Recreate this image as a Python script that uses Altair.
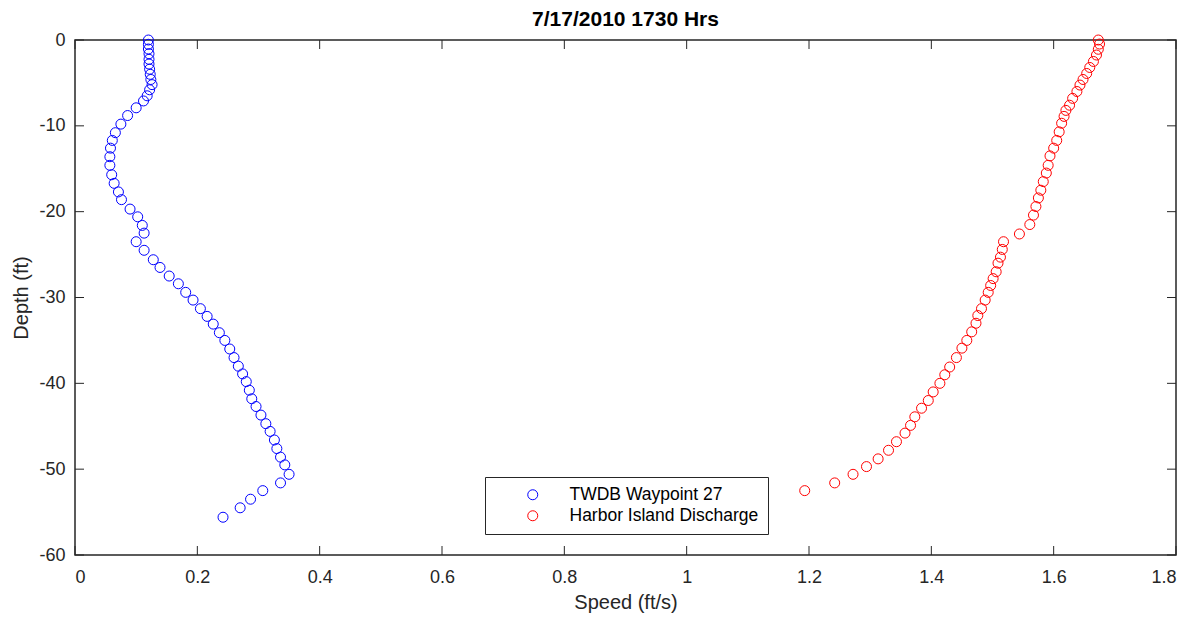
import altair as alt
import pandas as pd

# ---- data ----
twdb_depth = [0, -0.5, -1.05, -1.6, -2.25, -2.8, -3.4, -4.0, -4.6, -5.2, -5.8, -6.5, -7.1, -7.9,
              -8.8, -9.8, -10.8, -11.7, -12.6, -13.6, -14.6, -15.7, -16.7, -17.7, -18.6, -19.7,
              -20.6, -21.6, -22.5, -23.5, -24.5, -25.6, -26.5, -27.5, -28.4, -29.4, -30.3, -31.3,
              -32.2, -33.1, -34.1, -35.0, -36.0, -37.0, -38.0, -38.9, -39.8, -40.8, -41.8, -42.7,
              -43.7, -44.7, -45.6, -46.6, -47.6, -48.6, -49.5, -50.6, -51.6, -52.5, -53.5, -54.5,
              -55.6]
twdb_speed = [0.12, 0.12, 0.12, 0.121, 0.121, 0.121, 0.122, 0.123, 0.124, 0.126, 0.122, 0.118,
              0.112, 0.10, 0.086, 0.075, 0.066, 0.061, 0.058, 0.057, 0.057, 0.06, 0.064, 0.071,
              0.076, 0.09, 0.1025, 0.11, 0.113, 0.10, 0.113, 0.128, 0.139, 0.154, 0.169, 0.181,
              0.193, 0.205, 0.216, 0.226, 0.236, 0.245, 0.253, 0.26, 0.267, 0.274, 0.28, 0.285,
              0.289, 0.296, 0.304, 0.312, 0.319, 0.326, 0.33, 0.336, 0.343, 0.35, 0.336, 0.307,
              0.287, 0.27, 0.242]

hid_depth = [0, -0.47, -1.08, -1.75, -2.5, -3.2, -3.9, -4.6, -5.25, -6.0, -6.8, -7.6, -8.2, -8.9,
             -9.7, -10.7, -11.7, -12.6, -13.5, -14.6, -15.5, -16.5, -17.5, -18.4, -19.4, -20.4,
             -21.5, -22.6, -23.5, -24.4, -25.3, -26.0, -27.0, -27.8, -28.6, -29.4, -30.3, -31.3,
             -32.1, -33.0, -34.0, -35.0, -35.9, -37.0, -38.1, -39.0, -40.0, -41.0, -42.0, -42.9,
             -43.9, -44.9, -45.8, -46.8, -47.8, -48.8, -49.7, -50.6, -51.6, -52.5]
hid_speed = [1.673, 1.675, 1.673, 1.670, 1.665, 1.659, 1.654, 1.648, 1.643, 1.638, 1.631, 1.626,
             1.620, 1.617, 1.613, 1.609, 1.605, 1.600, 1.594, 1.591, 1.588, 1.583, 1.579, 1.575,
             1.571, 1.567, 1.561, 1.544, 1.518, 1.516, 1.513, 1.509, 1.506, 1.501, 1.497, 1.493,
             1.488, 1.482, 1.476, 1.473, 1.466, 1.458, 1.450, 1.441, 1.430, 1.422, 1.414, 1.403,
             1.395, 1.384, 1.373, 1.366, 1.357, 1.343, 1.330, 1.313, 1.294, 1.272, 1.242, 1.193]

series_names = ["TWDB Waypoint 27", "Harbor Island Discharge"]
series_colors = ["#0000ff", "#ff0000"]

x_ticks = [0, 0.2, 0.4, 0.6, 0.8, 1.0, 1.2, 1.4, 1.6, 1.8]
y_ticks = [0, -10, -20, -30, -40, -50, -60]

W, H = 1101, 515
FONT = "Liberation Sans"
TXT = "#262626"

df = pd.concat([
    pd.DataFrame({"Speed": twdb_speed, "Depth": twdb_depth, "Series": series_names[0]}),
    pd.DataFrame({"Speed": hid_speed, "Depth": hid_depth, "Series": series_names[1]}),
])
xt = pd.DataFrame({"xt": x_ticks})
yt = pd.DataFrame({"yt": y_ticks})

xscale = alt.Scale(domain=[0, 1.8], nice=False, zero=False)
yscale = alt.Scale(domain=[-60, 0], nice=False, zero=False)

points = alt.Chart(df).mark_point(shape="circle", filled=False, size=100, strokeWidth=1, opacity=1).encode(
    x=alt.X("Speed:Q", scale=xscale,
            axis=alt.Axis(title="Speed (ft/s)", values=x_ticks, labelExpr="'' + datum.value",
                          ticks=False, domain=False, grid=False, labelPadding=13, titlePadding=6)),
    y=alt.Y("Depth:Q", scale=yscale,
            axis=alt.Axis(title="Depth (ft)", values=y_ticks, labelExpr="'' + datum.value",
                          ticks=False, domain=False, grid=False, labelPadding=10, titlePadding=7)),
    color=alt.Color("Series:N", sort=series_names,
                    scale=alt.Scale(domain=series_names, range=series_colors),
                    legend=alt.Legend(title=None, orient="none", legendX=410, legendY=437,
                                      strokeColor="#262626", fillColor="white", padding=9,
                                      symbolType="circle", symbolSize=100, symbolStrokeWidth=1,
                                      symbolFillColor="transparent", symbolOffset=30,
                                      labelOffset=28, labelFontSize=17.5, labelFont=FONT,
                                      labelColor="#000000", rowPadding=2, labelLimit=400)),
)

tick_style = dict(color=TXT, strokeWidth=1)
bx = alt.Chart(xt).mark_rule(**tick_style).encode(x=alt.X("xt:Q", scale=xscale), y=alt.value(H), y2=alt.value(H - 9))
tx = alt.Chart(xt).mark_rule(**tick_style).encode(x=alt.X("xt:Q", scale=xscale), y=alt.value(0), y2=alt.value(9))
ly = alt.Chart(yt).mark_rule(**tick_style).encode(y=alt.Y("yt:Q", scale=yscale), x=alt.value(0), x2=alt.value(9))
ry = alt.Chart(yt).mark_rule(**tick_style).encode(y=alt.Y("yt:Q", scale=yscale), x=alt.value(W - 9), x2=alt.value(W))

chart = alt.layer(bx, tx, ly, ry, points).properties(
    width=W, height=H,
    title=alt.Title("7/17/2010 1730 Hrs", fontSize=21, fontWeight="bold", font=FONT, color="#000000",
                    anchor="middle", offset=1),
    autosize=alt.AutoSizeParams(type="none"),
    padding={"left": 67, "top": 32, "right": 10, "bottom": 65},
    background="white",
).configure_view(stroke=TXT, strokeWidth=1.5).configure_axis(
    labelFont=FONT, titleFont=FONT, labelFontSize=18, titleFontSize=20, labelColor=TXT, titleColor=TXT,
    titleFontWeight="normal"
)

chart.save("out.html", embed_options={"renderer": "svg", "actions": False})
